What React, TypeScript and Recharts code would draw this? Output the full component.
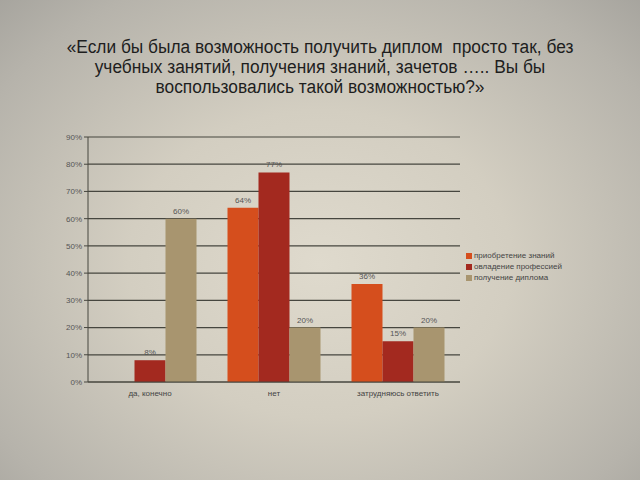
import React from "react";
import { BarChart, Bar, XAxis, YAxis, CartesianGrid, LabelList } from "recharts";

const categories = ["да, конечно", "нет", "затрудняюсь ответить"];
const knowledge: (number | null)[] = [null, 64, 36];
const profession: (number | null)[] = [8, 77, 15];
const diploma: (number | null)[] = [60, 20, 20];
const yTicks = [0, 10, 20, 30, 40, 50, 60, 70, 80, 90];
const seriesNames = ["приобретение знаний", "овладение профессией", "получение диплома"];
const titleLines = [
  "«Если бы была возможность получить диплом  просто так, без",
  "учебных занятий, получения знаний, зачетов ….. Вы бы",
  "воспользовались такой возможностью?»",
];

const colors = ["#D54E1D", "#A3291F", "#A8956F"];

const data = categories.map((c, i) => ({
  name: c,
  k: knowledge[i],
  p: profession[i],
  d: diploma[i],
}));

const fmt = (v: any) => (v === null || v === undefined ? "" : `${v}%`);
const chartFont = "'Liberation Sans', Arial, sans-serif";
const labelStyle = { fontSize: 8, fill: "#555", fontFamily: chartFont };

export default function App() {
  return (
    <div
      style={{
        position: "absolute",
        left: 0,
        top: 0,
        width: 640,
        height: 480,
        overflow: "hidden",
        background:
          "radial-gradient(ellipse 75% 80% at 50% 55%, #dfdacd 0%, #d3cec1 40%, #b6b3ab 80%, #a3a19b 100%)",
      }}
    >
      <div
        style={{
          position: "absolute",
          left: 0,
          top: 37,
          width: 640,
          textAlign: "center",
          fontFamily: "'Liberation Sans Narrow', 'Arial Narrow', 'Liberation Sans', sans-serif",
          fontSize: 18,
          lineHeight: "20px",
          color: "#1e1e1e",
          transform: "scaleX(0.962)",
          transformOrigin: "320px 0",
        }}
      >
        {titleLines.map((l, i) => (
          <div key={i} style={{ whiteSpace: "pre" }}>{l}</div>
        ))}
      </div>
      <div style={{ position: "absolute", left: 0, top: 0 }}>
        <BarChart
          width={640}
          height={480}
          data={data}
          margin={{ top: 137, right: 180, bottom: 78, left: 58 }}
          barCategoryGap="12.5%"
          barGap={0}
        >
          <CartesianGrid vertical={false} stroke="#46463f" strokeWidth={1.2} />
          <XAxis
            dataKey="name"
            height={20}
            stroke="#46463f"
            tickLine={false}
            tick={{ fontSize: 8, fill: "#444", fontFamily: chartFont }}
          />
          <YAxis
            width={30}
            domain={[0, 90]}
            ticks={yTicks}
            interval={0}
            tickFormatter={(v) => `${v}%`}
            stroke="#46463f"
            tickSize={4}
            tick={{ fontSize: 8, fill: "#555", fontFamily: chartFont }}
          />
          <Bar dataKey="k" fill={colors[0]} isAnimationActive={false}>
            <LabelList dataKey="k" position="top" formatter={fmt} style={labelStyle} />
          </Bar>
          <Bar dataKey="p" fill={colors[1]} isAnimationActive={false}>
            <LabelList dataKey="p" position="top" formatter={fmt} style={labelStyle} />
          </Bar>
          <Bar dataKey="d" fill={colors[2]} isAnimationActive={false}>
            <LabelList dataKey="d" position="top" formatter={fmt} style={labelStyle} />
          </Bar>
        </BarChart>
      </div>
      <div
        style={{
          position: "absolute",
          left: 466,
          top: 250,
          fontFamily: chartFont,
          fontSize: 8,
          color: "#444",
        }}
      >
        {seriesNames.map((n, i) => (
          <div key={n} style={{ display: "flex", alignItems: "center", height: 11 }}>
            <span style={{ display: "inline-block", width: 6, height: 6, background: colors[i], marginRight: 2 }} />
            {n}
          </div>
        ))}
      </div>
    </div>
  );
}
